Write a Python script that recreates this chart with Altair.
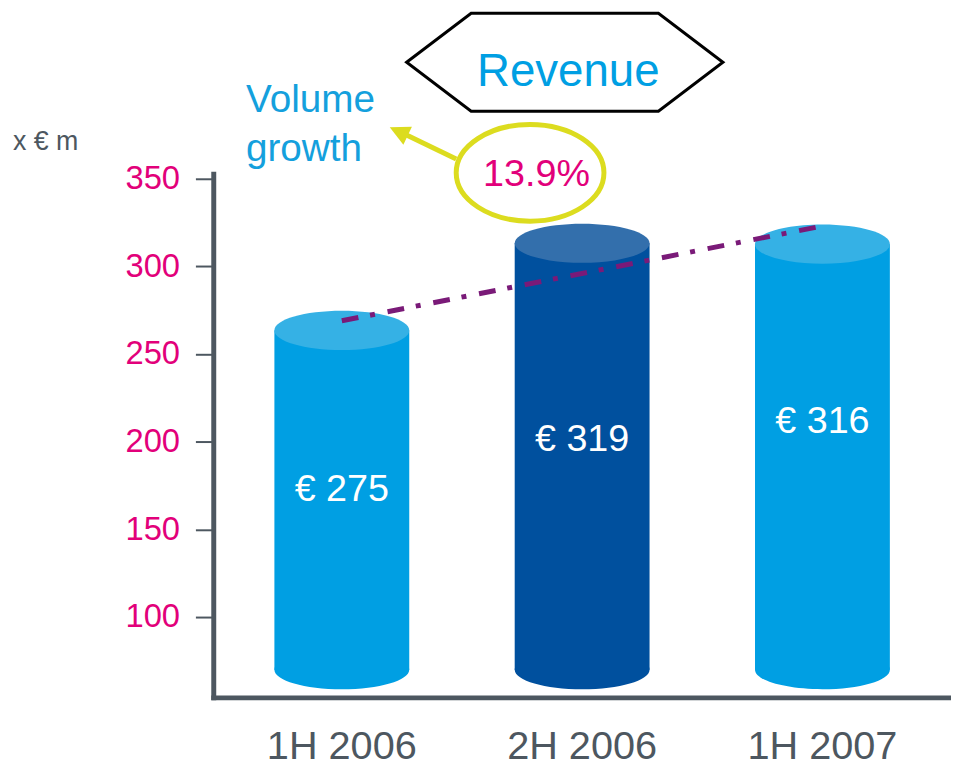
import altair as alt
import pandas as pd

# ---- data ----
categories = ["1H 2006", "2H 2006", "1H 2007"]
revenue_labels = ["€ 275", "€ 319", "€ 316"]
bar_tops = [263.5, 313.2, 312.7]          # drawn height of each cylinder (axis units)
bar_base = [70, 70, 70]                    # cylinder bottoms (axis units)
label_y = [166, 195, 205]                  # label baselines (axis units)
body_colors = ["#009FE3", "#00509E", "#009FE3"]
top_colors = ["#35B1E5", "#336FAC", "#35B1E5"]
trend_categories = ["1H 2006", "1H 2007"]
trend_values = [269, 323]
y_ticks = [100, 150, 200, 250, 300, 350]
growth_label = "13.9%"

FONT = "Liberation Sans"
AXIS_GRAY = "#4D5760"
MAGENTA = "#E2007A"
YELLOW = "#DCDC1F"

W, H = 744, 528

bars = pd.DataFrame({
    "cat": categories,
    "top": bar_tops,
    "base": bar_base,
    "label": revenue_labels,
    "label_y": label_y,
    "body": body_colors,
    "topc": top_colors,
})
trend = pd.DataFrame({"cat": trend_categories, "v": trend_values})

x_enc = alt.X(
    "cat:N",
    sort=categories,
    scale=alt.Scale(domain=categories, paddingInner=0.44, paddingOuter=0.255),
    axis=alt.Axis(
        title=None, ticks=False, labelPadding=30, labelFontSize=40,
        labelColor=AXIS_GRAY, labelFont=FONT, labelAngle=0,
        domainColor=AXIS_GRAY, domainWidth=5, domainCap="square",
    ),
)
y_scale = alt.Scale(domain=[54.2, 352.8], nice=False, zero=False)
y_axis = alt.Axis(
    title=None, values=y_ticks, grid=False, tickSize=18, tickWidth=2,
    tickColor=AXIS_GRAY, labelPadding=16, labelFontSize=33, labelColor=MAGENTA,
    labelFont=FONT, domainColor=AXIS_GRAY, domainWidth=5, domainCap="square",
)

ELL = "M-1,0A1,0.29,0,1,1,1,0A1,0.29,0,1,1,-1,0Z"
bw = 136
ell_size = bw * bw

base = alt.Chart(bars)

bottom_ell = base.mark_point(shape=ELL, size=ell_size, filled=True, opacity=1, strokeWidth=0).encode(
    x=x_enc, y=alt.Y("base:Q", scale=y_scale, axis=y_axis), color=alt.Color("body:N", scale=None)
)
body = base.mark_bar(size=bw).encode(
    x=x_enc, y=alt.Y("top:Q", scale=y_scale, axis=y_axis), y2="base:Q",
    color=alt.Color("body:N", scale=None)
)
top_ell = base.mark_point(shape=ELL, size=ell_size, filled=True, opacity=1, strokeWidth=0).encode(
    x=x_enc, y=alt.Y("top:Q", scale=y_scale, axis=y_axis), color=alt.Color("topc:N", scale=None)
)
trend_line = alt.Chart(trend).mark_line(
    color="#7A1A78", strokeWidth=5, strokeDash=[17, 12, 5, 13], strokeCap="butt"
).encode(x=x_enc, y=alt.Y("v:Q", scale=y_scale, axis=y_axis))

bar_text = base.mark_text(
    font=FONT, fontSize=38, color="white", align="center", baseline="alphabetic"
).encode(x=x_enc, y=alt.Y("label_y:Q", scale=y_scale, axis=y_axis), text="label:N")

# ---- annotations (positions in pixels relative to the plot origin) ----
one = pd.DataFrame({"t": [""]})
HEX = "M-1,0L-0.592,-0.31L0.592,-0.31L1,0L0.592,0.31L-0.592,0.31Z"
hexagon = alt.Chart(one).mark_point(
    shape=HEX, size=319 * 319, filled=True, fill="white", stroke="black", strokeWidth=3, opacity=1
).encode(x=alt.value(354.5), y=alt.value(-112.5))

revenue_txt = alt.Chart(pd.DataFrame({"t": ["Revenue"]})).mark_text(
    font=FONT, fontSize=46, color="#009FE3", align="center", baseline="alphabetic"
).encode(x=alt.value(358), y=alt.value(-89), text="t:N")

vol1 = alt.Chart(pd.DataFrame({"t": ["Volume"]})).mark_text(
    font=FONT, fontSize=39, color="#14A0DD", align="left", baseline="alphabetic"
).encode(x=alt.value(33), y=alt.value(-62), text="t:N")
vol2 = alt.Chart(pd.DataFrame({"t": ["growth"]})).mark_text(
    font=FONT, fontSize=39, color="#14A0DD", align="left", baseline="alphabetic"
).encode(x=alt.value(33), y=alt.value(-13), text="t:N")

unit_txt = alt.Chart(pd.DataFrame({"t": ["x € m"]})).mark_text(
    font=FONT, fontSize=27, color=AXIS_GRAY, align="left", baseline="alphabetic"
).encode(x=alt.value(-202), y=alt.value(-24), text="t:N")

ELL2 = "M-1,0A1,0.655,0,1,1,1,0A1,0.655,0,1,1,-1,0Z"
ring = alt.Chart(one).mark_point(
    shape=ELL2, size=149 * 149, filled=False, stroke=YELLOW, strokeWidth=5, opacity=1
).encode(x=alt.value(319.5), y=alt.value(-1))

growth_txt = alt.Chart(pd.DataFrame({"t": [growth_label]})).mark_text(
    font=FONT, fontSize=38, color=MAGENTA, align="center", baseline="alphabetic"
).encode(x=alt.value(326), y=alt.value(12), text="t:N")

arrow_line = alt.Chart(one).mark_rule(color=YELLOW, strokeWidth=5).encode(
    x=alt.value(245), y=alt.value(-15), x2=alt.value(186), y2=alt.value(-43.5)
)
arrow_head = alt.Chart(one).mark_point(
    shape="M0,-1L1,1L-1,1Z", size=400, filled=True, fill=YELLOW, opacity=1, strokeWidth=0, angle=295.5
).encode(x=alt.value(187), y=alt.value(-42.7))

chart = alt.layer(
    bottom_ell, body, top_ell, trend_line, bar_text,
    hexagon, revenue_txt, vol1, vol2, unit_txt, arrow_line, arrow_head, ring, growth_txt,
).properties(
    width=W, height=H,
    autosize=alt.AutoSizeParams(type="none"),
    padding={"left": 207, "top": 164, "right": 0, "bottom": 69},
    background="white",
).configure_view(stroke=None, strokeWidth=0)

chart.save("out.html", embed_options={"renderer": "svg", "actions": False})
